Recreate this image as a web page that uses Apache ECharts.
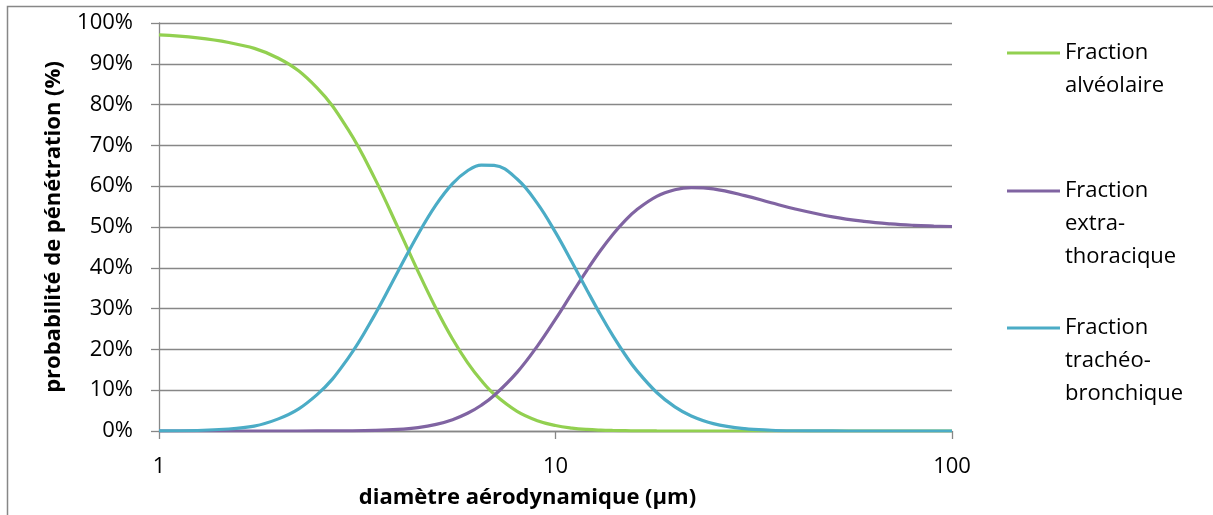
<!DOCTYPE html>
<html>
<head>
<meta charset="utf-8">
<script src="https://cdn.jsdelivr.net/npm/echarts@6/dist/echarts.min.js"></script>
<style>
  html, body { margin: 0; padding: 0; background: #fff; }
  #chart { width: 1213px; height: 515px; }
</style>
</head>
<body>
<div id="chart"></div>
<script>
// Aerodynamic diameter (µm)
const diam = [1, 1.5, 2, 2.5, 3, 3.5, 4, 4.5, 5, 5.5, 6, 6.5, 7, 8, 9, 10, 11, 12, 13, 14, 15, 16, 18, 20, 22, 25, 30, 35, 40, 50, 60, 70, 80, 90, 100];
// Penetration probability (%)
const alveolaire = [97.07, 95.21, 91.37, 84.17, 73.86, 61.92, 49.98, 39.14, 29.97, 22.55, 16.77, 12.36, 9.05, 4.81, 2.54, 1.35, 0.72, 0.38, 0.21, 0.12, 0.07, 0.04, 0.01, 0, 0, 0, 0, 0, 0, 0, 0, 0, 0, 0, 0];
const extraThoracique = [0, 0, 0, 0.01, 0.04, 0.14, 0.38, 0.84, 1.62, 2.77, 4.34, 6.32, 8.69, 14.37, 20.81, 27.41, 33.71, 39.39, 44.29, 48.36, 51.63, 54.19, 57.52, 59.14, 59.67, 59.34, 57.70, 55.94, 54.47, 52.48, 51.37, 50.75, 50.41, 50.23, 50.12];
const tracheoBronchique = [0.02, 0.49, 2.97, 8.86, 17.87, 28.47, 38.98, 48.18, 55.46, 60.62, 63.78, 65.18, 65.11, 61.77, 55.79, 48.68, 41.41, 34.57, 28.42, 23.11, 18.63, 14.92, 9.44, 5.91, 3.69, 1.82, 0.57, 0.19, 0.06, 0.01, 0, 0, 0, 0, 0];

const seriesNames = ['Fraction\nalvéolaire', 'Fraction\nextra-\nthoracique', 'Fraction\ntrachéo-\nbronchique'];
const seriesValues = [alveolaire, extraThoracique, tracheoBronchique];
const seriesColors = ['#92D050', '#8064A2', '#4BACC6'];
const xAxisTitle = 'diamètre aérodynamique (µm)';
const yAxisTitle = 'probabilité de pénétration (%)';

const FONT = '"Open Sans", "Liberation Sans", sans-serif';
const GRID_COLOR = '#878787';
const LH = 33;
const legendTops = [3.5, 108.5, 245.5];

const chart = echarts.init(document.getElementById('chart'), null, { renderer: 'canvas' });

// Each legend entry: icon aligned with the first line of its (multi-line) label
const legends = seriesNames.map((name, i) => {
  const lines = name.split('\n').length;
  return {
    data: [name],
    left: 1007,
    top: legendTops[i],
    padding: 0,
    orient: 'vertical',
    icon: 'rect',
    itemWidth: 53,
    itemHeight: 3,
    selectedMode: false,
    formatter: (n) => '\n'.repeat(lines - 1) + n,
    textStyle: { fontFamily: FONT, fontSize: 22, lineHeight: LH, color: '#000' }
  };
});

const series = seriesNames.map((name, i) => ({
  name: name,
  type: 'line',
  data: diam.map((d, k) => [d, seriesValues[i][k]]),
  smooth: 0.4,
  showSymbol: false,
  symbol: 'none',
  color: seriesColors[i],
  lineStyle: { width: 3.2, color: seriesColors[i] },
  emphasis: { disabled: true },
  z: 2 + i
}));

chart.setOption({
  animation: false,
  backgroundColor: '#fff',
  graphic: [{
    type: 'rect',
    shape: { x: 7.5, y: 6.5, width: 1300, height: 600 },
    style: { fill: 'none', stroke: GRID_COLOR, lineWidth: 1.5 },
    silent: true
  }],
  legend: legends,
  grid: { left: 159, right: 261, top: 23, bottom: 84, containLabel: false },
  xAxis: {
    type: 'log',
    logBase: 10,
    min: 1,
    max: 100,
    name: xAxisTitle,
    nameLocation: 'middle',
    nameGap: 56,
    nameTextStyle: { fontFamily: FONT, fontSize: 22, fontWeight: 'bold', color: '#000', padding: [0, 56, 0, 0] },
    axisLine: { show: true, lineStyle: { color: GRID_COLOR, width: 1.3 } },
    axisTick: { show: true, inside: false, length: 8, lineStyle: { color: GRID_COLOR, width: 1.3 } },
    axisLabel: { fontFamily: FONT, fontSize: 22, color: '#000', margin: 25 },
    splitLine: { show: false },
    minorTick: { show: false }
  },
  yAxis: {
    type: 'value',
    min: 0,
    max: 100,
    interval: 10,
    name: yAxisTitle,
    nameLocation: 'middle',
    nameGap: 94,
    nameTextStyle: { fontFamily: FONT, fontSize: 22, fontWeight: 'bold', color: '#000' },
    axisLine: { show: true, lineStyle: { color: GRID_COLOR, width: 1.3 } },
    axisTick: { show: true, inside: false, length: 8, lineStyle: { color: GRID_COLOR, width: 1.3 } },
    axisLabel: { fontFamily: FONT, fontSize: 22, color: '#000', margin: 26, formatter: '{value}%' },
    splitLine: { show: true, lineStyle: { color: GRID_COLOR, width: 1.3 } }
  },
  series: series
});
</script>
</body>
</html>
